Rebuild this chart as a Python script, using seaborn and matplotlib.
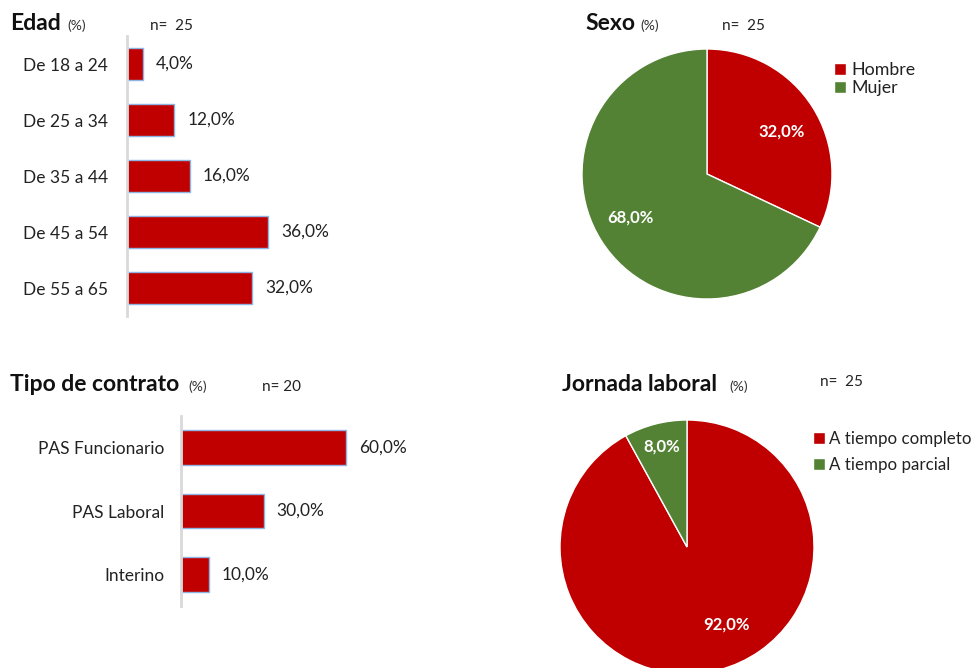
import pandas as pd
import matplotlib
matplotlib.use("Agg")
import matplotlib.pyplot as plt
import seaborn as sns

# ---- data ----
edad_labels = ["De 18 a 24", "De 25 a 34", "De 35 a 44", "De 45 a 54", "De 55 a 65"]
edad_pct = [4.0, 12.0, 16.0, 36.0, 32.0]

contrato_labels = ["PAS Funcionario", "PAS Laboral", "Interino"]
contrato_pct = [60.0, 30.0, 10.0]

sexo_labels = ["Hombre", "Mujer"]
sexo_pct = [32.0, 68.0]

jornada_labels = ["A tiempo completo", "A tiempo parcial"]
jornada_pct = [92.0, 8.0]

RED = "#C00000"
GREEN = "#548235"
EDGE = "#8EB4E3"

W, H = 976, 668

sns.set_theme(style="white")
plt.rcParams["font.family"] = ["Lato", "DejaVu Sans"]


def pct(v):
    return f"{v:.1f}%".replace(".", ",")


def px_axes(fig, left, top, width, height):
    return fig.add_axes([left / W, 1 - (top + height) / H, width / W, height / H])


def px_text(fig, x, y, s, **kw):
    fig.text(x / W, 1 - y / H, s, va="baseline", **kw)


def bar_panel(ax, labels, values, xmax, height, pad):
    df = pd.DataFrame({"cat": labels, "pct": values})
    sns.barplot(data=df, x="pct", y="cat", orient="h", color=RED, ax=ax,
                width=height, edgecolor=EDGE, linewidth=1, saturation=1)
    ax.bar_label(ax.containers[0], labels=[pct(v) for v in values],
                 padding=9.5, fontsize=12.5, color="#222222")
    ax.set_xlim(0, xmax)
    ax.set_xlabel("")
    ax.set_ylabel("")
    ax.set_xticks([])
    # pad is given in pixels, tick pad wants points
    ax.tick_params(axis="y", length=0, pad=pad * 0.72, labelsize=12.5, labelcolor="#222222")
    for side in ["top", "right", "bottom"]:
        ax.spines[side].set_visible(False)
    ax.spines["left"].set_color("#D9D9D9")
    ax.spines["left"].set_linewidth(2)
    ax.patch.set_alpha(0)


def pie_panel(fig, ax, values, labels, label_pos, leg_anchor, leg_spacing, leg_size):
    wedges, _ = ax.pie(values, colors=[RED, GREEN], startangle=90, counterclock=False,
                       wedgeprops=dict(edgecolor="white", linewidth=1))
    for (x, y), v in zip(label_pos, values):
        ax.text(x, y, pct(v), ha="center", va="center", color="white",
                fontsize=12, fontweight="bold")
    ax.set_xlim(-1, 1)
    ax.set_ylim(-1, 1)
    ax.set_aspect("equal")
    ax.axis("off")
    fig.legend(wedges, labels, loc="upper left",
               bbox_to_anchor=(leg_anchor[0] / W, 1 - leg_anchor[1] / H),
               frameon=False, fontsize=leg_size, handlelength=0.7, handleheight=0.7,
               handletextpad=0.25, labelspacing=leg_spacing, borderaxespad=0,
               borderpad=0, labelcolor="#222222")


fig = plt.figure(figsize=(W / 100, H / 100), dpi=100)

# Edad
ax1 = px_axes(fig, 127, 36, 196, 280)
bar_panel(ax1, edad_labels, edad_pct, 50, 0.58, 19)
px_text(fig, 10, 30, "Edad", fontsize=16.5, fontweight="bold", color="#111111")
px_text(fig, 67, 30, "(%)", fontsize=10, color="#333333")
px_text(fig, 150, 30, "n=  25", fontsize=11, color="#222222")

# Tipo de contrato
ax2 = px_axes(fig, 181, 416, 220, 190)
bar_panel(ax2, contrato_labels, contrato_pct, 80, 0.55, 17)
px_text(fig, 10, 391, "Tipo de contrato", fontsize=16.5, fontweight="bold", color="#111111")
px_text(fig, 188, 391, "(%)", fontsize=10, color="#333333")
px_text(fig, 262, 391, "n= 20", fontsize=11, color="#222222")

# Sexo
ax3 = px_axes(fig, 582, 49, 250, 250)
pie_panel(fig, ax3, sexo_pct, sexo_labels, [(0.6, 0.34), (-0.61, -0.35)],
          (834, 62), 0.12, 12.8)
px_text(fig, 585, 30, "Sexo", fontsize=16.5, fontweight="bold", color="#111111")
px_text(fig, 640, 30, "(%)", fontsize=10, color="#333333")
px_text(fig, 722, 30, "n=  25", fontsize=11, color="#222222")

# Jornada laboral
ax4 = px_axes(fig, 560, 420, 254, 254)
pie_panel(fig, ax4, jornada_pct, jornada_labels, [(0.31, -0.61), (-0.2, 0.79)],
          (813, 431), 0.6, 12.2)
px_text(fig, 562, 391, "Jornada laboral", fontsize=16.5, fontweight="bold", color="#111111")
px_text(fig, 729, 391, "(%)", fontsize=10, color="#333333")
px_text(fig, 820, 386, "n=  25", fontsize=11, color="#222222")

fig.savefig("out.png", dpi=100, facecolor="white")
